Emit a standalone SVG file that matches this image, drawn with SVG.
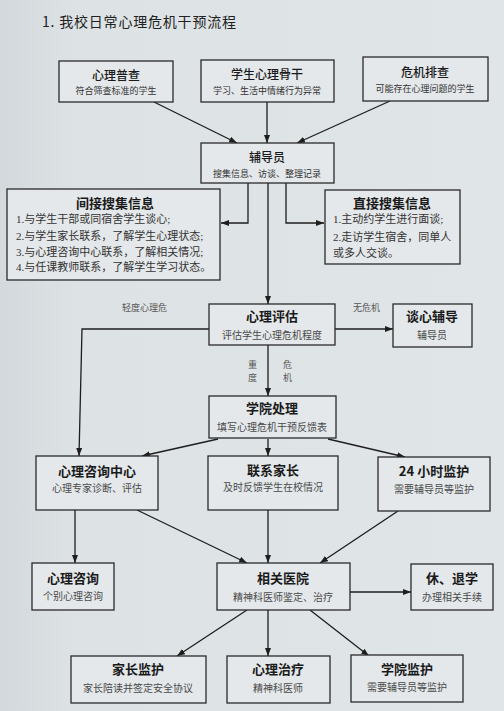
<svg xmlns="http://www.w3.org/2000/svg" width="504" height="711" viewBox="0 0 504 711">
<defs>
<linearGradient id="bg" x1="0" y1="0" x2="1" y2="0">
<stop offset="0" stop-color="#d3d9dc"/>
<stop offset="0.15" stop-color="#dde2e5"/>
<stop offset="1" stop-color="#e0e5e7"/>
</linearGradient>
<marker id="ah" markerWidth="8" markerHeight="6" refX="8" refY="3" orient="auto" markerUnits="userSpaceOnUse">
<path d="M0,0 L8,3 L0,6 z" fill="#1e1e1e"/>
</marker>
<style>
.box{fill:#e4e8ea;stroke:#2a2a2a;stroke-width:1.3}
.t{font-family:"Noto Sans CJK SC",sans-serif;font-weight:bold;font-size:13px;fill:#1a1a1a;text-anchor:middle}
.tt{font-family:"Noto Sans CJK SC",sans-serif;font-weight:500;font-size:12px;fill:#1a1a1a;text-anchor:middle}
.s{font-family:"Noto Sans CJK SC",sans-serif;font-size:10px;fill:#4a4a4a;text-anchor:middle}
.ss{font-family:"Noto Sans CJK SC",sans-serif;font-size:9px;fill:#333;text-anchor:middle}
.l{font-family:"Liberation Serif","Noto Sans CJK SC",serif;font-size:11px;fill:#333}
.lab{font-family:"Noto Sans CJK SC",sans-serif;font-size:9px;fill:#555}
.c{fill:none;stroke:#1e1e1e;stroke-width:1.3;marker-end:url(#ah)}
</style>
</defs>
<rect width="504" height="711" fill="url(#bg)"/>
<text x="42" y="27" font-family="Noto Sans CJK SC,sans-serif" font-size="14" fill="#222" letter-spacing="0.8">1.  我校日常心理危机干预流程</text>

<g id="connectors">
<path class="c" d="M154,102 L237,143"/>
<path class="c" d="M267,102 L267,143"/>
<path class="c" d="M390,101 L297,143"/>
<path class="c" d="M248,183 L248,223 L221,223"/>
<path class="c" d="M286,183 L286,223 L324,223"/>
<path class="c" d="M268,183 L268,304"/>
<path class="c" d="M335,329 L393,329"/>
<path class="c" d="M209,329 L82,329 L79,456"/>
<path class="c" d="M268,345 L268,396"/>
<path class="c" d="M218,439 L142,456"/>
<path class="c" d="M268,439 L268,456"/>
<path class="c" d="M328,439 L405,457"/>
<path class="c" d="M137,510 L247,563"/>
<path class="c" d="M268,510 L268,563"/>
<path class="c" d="M398,511 L320,563"/>
<path class="c" d="M75,510 L75,563"/>
<path class="c" d="M350,592 L411,592"/>
<path class="c" d="M247,610 L177,656"/>
<path class="c" d="M268,610 L268,656"/>
<path class="c" d="M310,610 L369,656"/>
<text class="lab" x="122" y="311">轻度心理危</text>
<text class="lab" x="353" y="311">无危机</text>
<text class="lab" x="248" y="368">重</text>
<text class="lab" x="248" y="381">度</text>
<text class="lab" x="283" y="368">危</text>
<text class="lab" x="283" y="381">机</text>
</g>

<g id="n-puc"><rect class="box" x="59" y="61" width="114" height="41"/><text class="tt" x="116" y="80">心理普查</text><text class="ss" x="116" y="94">符合筛查标准的学生</text></g>
<g id="n-gugan"><rect class="box" x="201" y="60" width="133" height="42"/><text class="tt" x="267" y="79">学生心理骨干</text><text class="ss" x="267" y="94">学习、生活中情绪行为异常</text></g>
<g id="n-paicha"><rect class="box" x="363" y="57" width="125" height="44"/><text class="tt" x="425" y="77">危机排查</text><text class="ss" x="425" y="92">可能存在心理问题的学生</text></g>

<g id="n-fdy"><rect class="box" x="201" y="143" width="133" height="40"/><text class="tt" x="267" y="162">辅导员</text><text class="ss" x="267" y="177">搜集信息、访谈、整理记录</text></g>

<g id="n-jianjie"><rect class="box" x="7" y="189" width="213" height="91"/>
<text class="t" x="115" y="208">间接搜集信息</text>
<text class="l" x="16" y="223">1.与学生干部或同宿舍学生谈心;</text>
<text class="l" x="16" y="240">2.与学生家长联系，了解学生心理状态;</text>
<text class="l" x="16" y="256">3.与心理咨询中心联系，了解相关情况;</text>
<text class="l" x="16" y="271">4.与任课教师联系，了解学生学习状态。</text>
</g>
<g id="n-zhijie"><rect class="box" x="325" y="190" width="135" height="74"/>
<text class="t" x="392" y="208">直接搜集信息</text>
<text class="l" x="333" y="223">1.主动约学生进行面谈;</text>
<text class="l" x="333" y="241">2.走访学生宿舍，同单人</text>
<text class="l" x="333" y="257">或多人交谈。</text>
</g>

<g id="n-pinggu"><rect class="box" x="209" y="304" width="126" height="41"/><text class="t" x="272" y="321">心理评估</text><text class="s" x="272" y="339">评估学生心理危机程度</text></g>
<g id="n-tanxin"><rect class="box" x="393" y="304" width="79" height="43"/><text class="t" x="432" y="321">谈心辅导</text><text class="s" x="432" y="339">辅导员</text></g>
<g id="n-xueyuan"><rect class="box" x="209" y="396" width="127" height="42"/><text class="t" x="272" y="413">学院处理</text><text class="s" x="272" y="431">填写心理危机干预反馈表</text></g>

<g id="n-zxzx"><rect class="box" x="36" y="456" width="122" height="54"/><text class="t" x="97" y="476">心理咨询中心</text><text class="s" x="97" y="492">心理专家诊断、评估</text></g>
<g id="n-lxjz"><rect class="box" x="208" y="456" width="130" height="54"/><text class="t" x="273" y="475">联系家长</text><text class="s" x="273" y="491">及时反馈学生在校情况</text></g>
<g id="n-24h"><rect class="box" x="378" y="457" width="112" height="54"/><text class="t" x="434" y="476">24 小时监护</text><text class="s" x="434" y="493">需要辅导员等监护</text></g>

<g id="n-zixun"><rect class="box" x="32" y="563" width="82" height="47"/><text class="t" x="73" y="583">心理咨询</text><text class="s" x="73" y="600">个别心理咨询</text></g>
<g id="n-yiyuan"><rect class="box" x="217" y="563" width="133" height="47"/><text class="t" x="283" y="583">相关医院</text><text class="s" x="283" y="601">精神科医师鉴定、治疗</text></g>
<g id="n-tuixue"><rect class="box" x="411" y="564" width="82" height="46"/><text class="t" x="452" y="583">休、退学</text><text class="s" x="452" y="601">办理相关手续</text></g>

<g id="n-jzjh"><rect class="box" x="71" y="656" width="135" height="47"/><text class="t" x="138" y="674">家长监护</text><text class="s" x="138" y="692">家长陪读并签定安全协议</text></g>
<g id="n-zl"><rect class="box" x="227" y="656" width="103" height="47"/><text class="t" x="278" y="674">心理治疗</text><text class="s" x="278" y="692">精神科医师</text></g>
<g id="n-xyjh"><rect class="box" x="351" y="655" width="112" height="47"/><text class="t" x="407" y="674">学院监护</text><text class="s" x="407" y="691">需要辅导员等监护</text></g>
</svg>
